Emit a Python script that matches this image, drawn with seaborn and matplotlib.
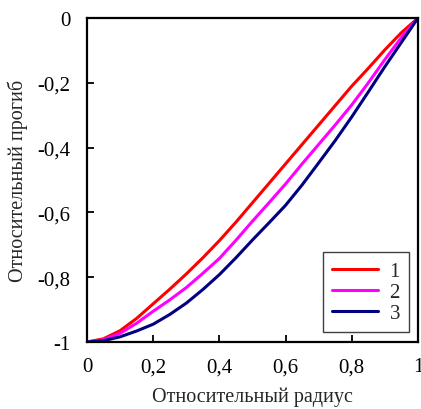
#!/usr/bin/env python3
# Relative deflection vs relative radius, three cases

import numpy as np
import pandas as pd
import seaborn as sns
import matplotlib
matplotlib.use("Agg")
import matplotlib.pyplot as plt
from matplotlib.ticker import FuncFormatter, MultipleLocator

radius = [0.0, 0.05, 0.10, 0.15, 0.20, 0.25, 0.30, 0.35, 0.40, 0.45, 0.50,
          0.55, 0.60, 0.65, 0.70, 0.75, 0.80, 0.85, 0.90, 0.95, 1.0]
curve1 = [-1.0, -0.990, -0.965, -0.927, -0.882, -0.837, -0.790, -0.740, -0.687, -0.630, -0.570,
          -0.510, -0.450, -0.390, -0.330, -0.270, -0.210, -0.155, -0.098, -0.045, 0.0]
curve2 = [-1.0, -0.993, -0.973, -0.942, -0.905, -0.870, -0.832, -0.788, -0.742, -0.686, -0.627,
          -0.570, -0.512, -0.450, -0.390, -0.330, -0.268, -0.200, -0.128, -0.060, 0.0]
curve3 = [-1.0, -0.996, -0.984, -0.966, -0.945, -0.915, -0.880, -0.838, -0.792, -0.740, -0.685,
          -0.632, -0.578, -0.515, -0.447, -0.378, -0.305, -0.228, -0.150, -0.075, 0.0]
labels = ["1", "2", "3"]
colors = ["#ff0000", "#ff00ff", "#000080"]


def comma(v, pos):
    if abs(v) < 1e-9:
        return "0"
    return f"{v:g}".replace(".", ",")


sns.set_style("white")
plt.rcParams["font.family"] = ["Liberation Serif", "DejaVu Serif"]
plt.rcParams["font.size"] = 15

data = pd.concat([
    pd.DataFrame({"r": radius, "w": c, "case": lab})
    for c, lab in zip([curve1, curve2, curve3], labels)
])

fig = plt.figure(figsize=(4.21, 4.10), dpi=100)
ax = fig.add_axes([0.2067, 0.1634, 0.786, 0.790])

sns.lineplot(data=data, x="r", y="w", hue="case", palette=colors,
             linewidth=2.2, sort=False, ax=ax)

ax.set_xlim(0, 1)
ax.set_ylim(-1, 0)
ax.xaxis.set_major_locator(MultipleLocator(0.2))
ax.yaxis.set_major_locator(MultipleLocator(0.2))
ax.xaxis.set_major_formatter(FuncFormatter(comma))
ax.yaxis.set_major_formatter(FuncFormatter(comma))
ax.tick_params(direction="in", length=5, width=1.3, colors="black",
               labelsize=15, bottom=True, left=True, top=False, right=False)
ax.tick_params(axis="y", pad=12)
ax.tick_params(axis="x", pad=11)

for s in ax.spines.values():
    s.set_visible(True)
    s.set_color("black")
    s.set_linewidth(1.6)

ax.set_xlabel("Относительный радиус", fontsize=14.5, labelpad=7)
ax.set_ylabel("Относительный прогиб", fontsize=14.5, labelpad=7)

leg = ax.legend(loc="lower right", bbox_to_anchor=(0.974, 0.03), fancybox=False,
                framealpha=1, edgecolor="#404040", fontsize=15, handlelength=2.2,
                labelspacing=0.06, handletextpad=0.55, borderpad=0.45,
                borderaxespad=0)
leg.get_frame().set_linewidth(1.0)

fig.savefig("out.png", dpi=100)
